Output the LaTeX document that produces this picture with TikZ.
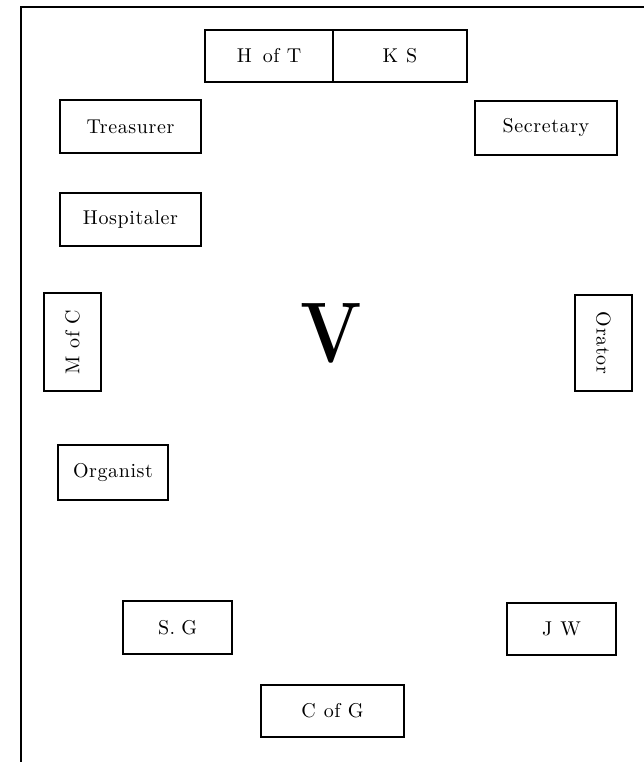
\documentclass[tikz,border=0pt]{standalone}
\usepackage{fontspec}
\setmainfont{Latin Modern Roman}
\newfontfamily\labfont[LetterSpace=3]{lmroman10-regular.otf}
\begin{document}
\begin{tikzpicture}[x=1pt,y=-1pt,
  box/.style={draw, line width=1.6pt, inner sep=0pt,
    font=\labfont\fontsize{20}{23}\selectfont},
  frameline/.style={line width=2.4pt, line cap=rect}]
\useasboundingbox[fill=white] (0,0) rectangle (644,762);
% frame
\coordinate (fb) at (21,762);
\coordinate (fc) at (21,7);
\coordinate (fr) at (644,7);
\draw[frameline] (fb) -- (fc) -- (fr);
% top pair
\node[box, minimum width=128pt, minimum height=52pt] (hot) at (269,56) {H\hspace{11pt}of T};
\node[box, minimum width=134pt, minimum height=52pt] (ks) at (400,56) {K\hspace{8pt}S};
% left column
\node[box, minimum width=141pt, minimum height=53pt] (tre) at (130.5,126.5) {Treasurer};
\node[box, minimum width=141pt, minimum height=53pt] (hos) at (130.5,219.5) {Hospitaler};
\node[box, rotate=90, minimum width=98pt, minimum height=57pt] (moc) at (72.5,342) {M of C};
\node[box, minimum width=110pt, minimum height=55pt] (org) at (113,472.5) {Organist};
% right column
\node[box, minimum width=142pt, minimum height=54pt] (sec) at (546,128) {Secretary};
\node[box, rotate=-90, minimum width=96pt, minimum height=57pt] (ora) at (603.5,343) {Orator};
% bottom
\node[box, minimum width=109pt, minimum height=53pt] (sg) at (177.5,627.5) {S.\hspace{6pt}G};
\node[box, minimum width=109pt, minimum height=52pt] (jw) at (561.5,629) {J\hspace{8pt}W};
\node[box, minimum width=143pt, minimum height=52pt] (cog) at (332.5,711) {C\hspace{8pt}of G};
% centre
\node[inner sep=0pt, font=\fontsize{86}{90}\selectfont\bfseries] (v) at (331,333) {\scalebox{0.84}[1]{V}};
\end{tikzpicture}
\end{document}
